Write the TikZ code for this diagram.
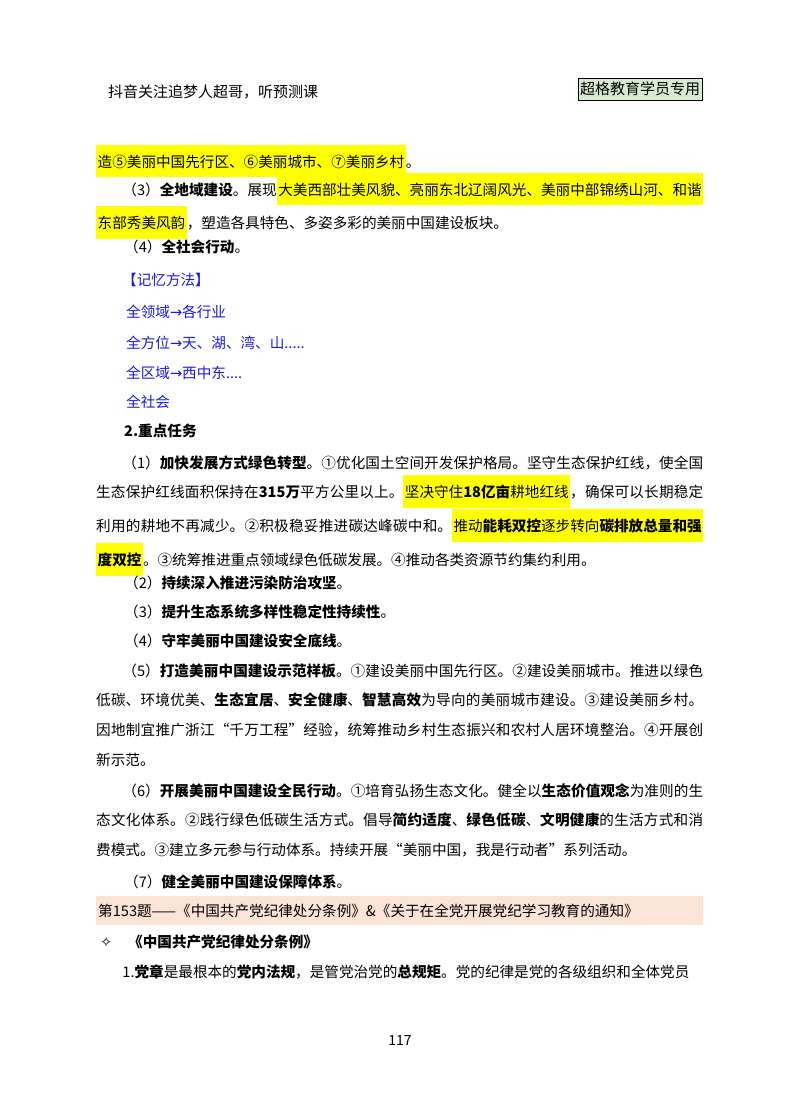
\documentclass[tikz,border=0pt]{standalone}
\usepackage{fontspec}
\setmainfont{Noto Sans CJK SC}
\newfontfamily\symf{DejaVu Sans}
\definecolor{hly}{HTML}{FFFF00}
\definecolor{band}{HTML}{FBE4D5}
\definecolor{tagbg}{HTML}{D9EAD3}
\definecolor{bluet}{HTML}{1A1AE6}
\newcommand{\hl}[1]{{\setlength{\fboxsep}{1.5pt}\colorbox{hly}{\strut #1}}}
\XeTeXlinebreaklocale "zh"
\XeTeXlinebreakskip=0pt plus 2pt
\tikzset{
 para/.style={anchor=base west,inner sep=0pt,text width=607pt,align=justify,
   font=\fontsize{14.6}{29.8}\selectfont},
 ln/.style={anchor=base west,inner sep=0pt,font=\fontsize{14.6}{29.8}\selectfont},
 mem/.style={ln,text=bluet}
}
\begin{document}
\begin{tikzpicture}[x=1pt,y=-1pt]
\useasboundingbox (0,0) rectangle (800,1114);
\fill[white] (0,0) rectangle (800,1114);
\node[ln,font=\fontsize{15}{18}\selectfont] (hdr) at (108,97) {抖音关注追梦人超哥，听预测课};
\node[draw,thick,fill=tagbg,inner sep=2pt,font=\fontsize{15}{18}\selectfont,minimum height=22pt] (tag) at (640,89) {超格教育学员专用};
\node[ln] (p0) at (96,167) {\hl{造⑤美丽中国先行区、⑥美丽城市、⑦美丽乡村}。};
\node[para] (p3) at (96,195) {\hspace*{1.8em}（3）\textbf{全地域建设}。展现\hl{大美西部壮美风貌、亮丽东北辽阔风光、美丽中部锦绣山河、和谐}\linebreak\hl{东部秀美风韵}，塑造各具特色、多姿多彩的美丽中国建设板块。};
\node[ln] (p4) at (124,252) {（4）\textbf{全社会行动}。};
\node[mem] (m0) at (122,285) {【记忆方法】};
\node[mem] (m1) at (126,317) {全领域{\symf →}各行业};
\node[mem] (m2) at (126,348) {全方位{\symf →}天、湖、湾、山.....};
\node[mem] (m3) at (126,378) {全区域{\symf →}西中东....};
\node[mem] (m4) at (126,407) {全社会};
\node[ln] (t2) at (124,436) {\textbf{2.重点任务}};
\node[para] (q1) at (96,468) {\hspace*{1.8em}（1）\textbf{加快发展方式绿色转型}。①优化国土空间开发保护格局。坚守生态保护红线，使全国\linebreak 生态保护红线面积保持在\textbf{315万}平方公里以上。\hl{坚决守住\textbf{18亿亩}耕地红线}，确保可以长期稳定\linebreak 利用的耕地不再减少。②积极稳妥推进碳达峰碳中和。\hl{推动\textbf{能耗双控}逐步转向\textbf{碳排放总量和强}}\linebreak\hl{\textbf{度双控}}。③统筹推进重点领域绿色低碳发展。④推动各类资源节约集约利用。};
\node[ln] (q2) at (124,588) {（2）\textbf{持续深入推进污染防治攻坚}。};
\node[ln] (q3) at (124,617) {（3）\textbf{提升生态系统多样性稳定性持续性}。};
\node[ln] (q4) at (124,646) {（4）\textbf{守牢美丽中国建设安全底线}。};
\node[para] (q5) at (96,676) {\hspace*{1.8em}（5）\textbf{打造美丽中国建设示范样板}。①建设美丽中国先行区。②建设美丽城市。推进以绿色\linebreak 低碳、环境优美、\textbf{生态宜居}、\textbf{安全健康}、\textbf{智慧高效}为导向的美丽城市建设。③建设美丽乡村。\linebreak 因地制宜推广浙江“千万工程”经验，统筹推动乡村生态振兴和农村人居环境整治。④开展创\linebreak 新示范。};
\node[para] (q6) at (96,796) {\hspace*{1.8em}（6）\textbf{开展美丽中国建设全民行动}。①培育弘扬生态文化。健全以\textbf{生态价值观念}为准则的生\linebreak 态文化体系。②践行绿色低碳生活方式。倡导\textbf{简约适度}、\textbf{绿色低碳}、\textbf{文明健康}的生活方式和消\linebreak 费模式。③建立多元参与行动体系。持续开展“美丽中国，我是行动者”系列活动。};
\node[ln] (q7) at (124,887) {（7）\textbf{健全美丽中国建设保障体系}。};
\fill[band] (96,896) rectangle (703,925);
\node[ln] (b) at (98,916) {第153题——《中国共产党纪律处分条例》\&《关于在全党开展党纪学习教育的通知》};
\node[ln] (st) at (100,947) {{\symf ✧}};
\node[ln] (tt) at (128,947) {\textbf{《中国共产党纪律处分条例》}};
\node[para] (r1) at (96,977) {\hspace*{1.8em}1.\textbf{党章}是最根本的\textbf{党内法规}，是管党治党的\textbf{总规矩}。党的纪律是党的各级组织和全体党员};
\node[inner sep=0pt,font=\fontsize{14}{16}\selectfont] (pg) at (400,1040) {117};
\end{tikzpicture}
\end{document}
